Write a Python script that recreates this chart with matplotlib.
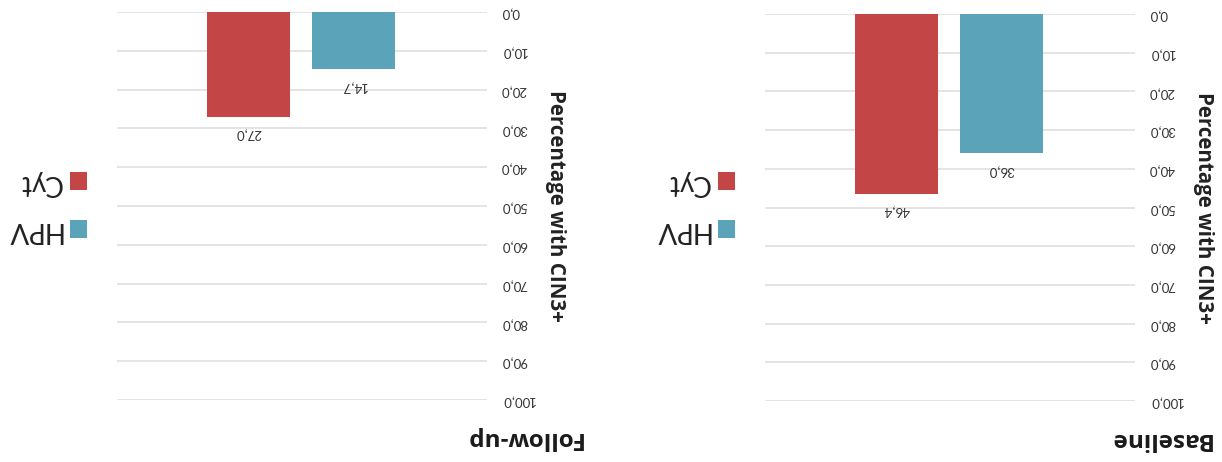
import matplotlib
matplotlib.use("Agg")
import matplotlib.pyplot as plt
from matplotlib.patches import Patch

plt.rcParams['font.family'] = ['Lato', 'DejaVu Sans']

# data
categories = ["Cyt", "HPV"]
panels = ["Baseline", "Follow-up"]
baseline_values = [46.4, 36.0]
followup_values = [27.0, 14.7]
y_ticks = [0, 10, 20, 30, 40, 50, 60, 70, 80, 90, 100]

colors = ["#C44545", "#5BA3B8"]
ylabel = "Percentage with CIN3+"


def fmt(v):
    return f"{v:.1f}".replace(".", ",")


fig = plt.figure(figsize=(12.22, 4.62), dpi=100)

# the whole chart is shown upside down (rotated 180 degrees)
ax_fu = fig.add_axes([117 / 1222, 1 - 400 / 462, 370 / 1222, 388 / 462])
ax_bl = fig.add_axes([765 / 1222, 1 - 401 / 462, 370 / 1222, 387 / 462])

setup = [
    (ax_bl, "Baseline", baseline_values, 1.205, 735),
    (ax_fu, "Follow-up", followup_values, 1.257, 87),
]

for ax, title, values, title_x, leg_right in setup:
    xs = list(range(len(categories)))
    ax.bar(xs, values, width=0.79, color=colors, zorder=3)
    for x, v in zip(xs, values):
        ax.annotate(fmt(v), xy=(x, v), xytext=(0, -12.5), textcoords="offset points",
                    ha="center", va="center", rotation=180, fontsize=9.5, color="#333333")

    ax.set_xlim(-1.25, 2.27)
    ax.set_ylim(100, 0)
    ax.set_yticks(y_ticks)
    ax.set_yticklabels([fmt(t) for t in y_ticks], rotation=180)
    ax.yaxis.tick_right()
    ax.tick_params(axis="y", length=0, pad=10, labelsize=9.5, labelcolor="#333333")
    ax.set_xticks([])
    ax.grid(axis="y", color="#dddddd", linewidth=1.1, zorder=0)
    for s in ax.spines.values():
        s.set_visible(False)

    ax.yaxis.set_label_position("right")
    ax.set_ylabel(ylabel, rotation=270, fontsize=14.8, fontweight="bold", color="#222222",
                  family="Open Sans", ha="center", va="center", rotation_mode="anchor")
    ax.yaxis.set_label_coords(1.186, 0.5)

    ax.text(title_x, -0.097, title, transform=ax.transAxes, rotation=180,
            ha="right", va="center", fontsize=17.5, fontweight="bold", color="#1a1a1a",
            family="Open Sans")

    handles = [Patch(facecolor=c, edgecolor="none") for c in colors]
    leg = fig.legend(handles, categories, loc="center right",
                     bbox_to_anchor=(leg_right / 1222, 0.553), frameon=False,
                     markerfirst=False, fontsize=20, handlelength=0.62, handleheight=0.62,
                     handletextpad=0.3, labelspacing=0.78, borderpad=0, borderaxespad=0)
    for t in leg.get_texts():
        t.set_rotation(180)
        t.set_color("#222222")

fig.savefig("out.png", dpi=100, facecolor="white")
